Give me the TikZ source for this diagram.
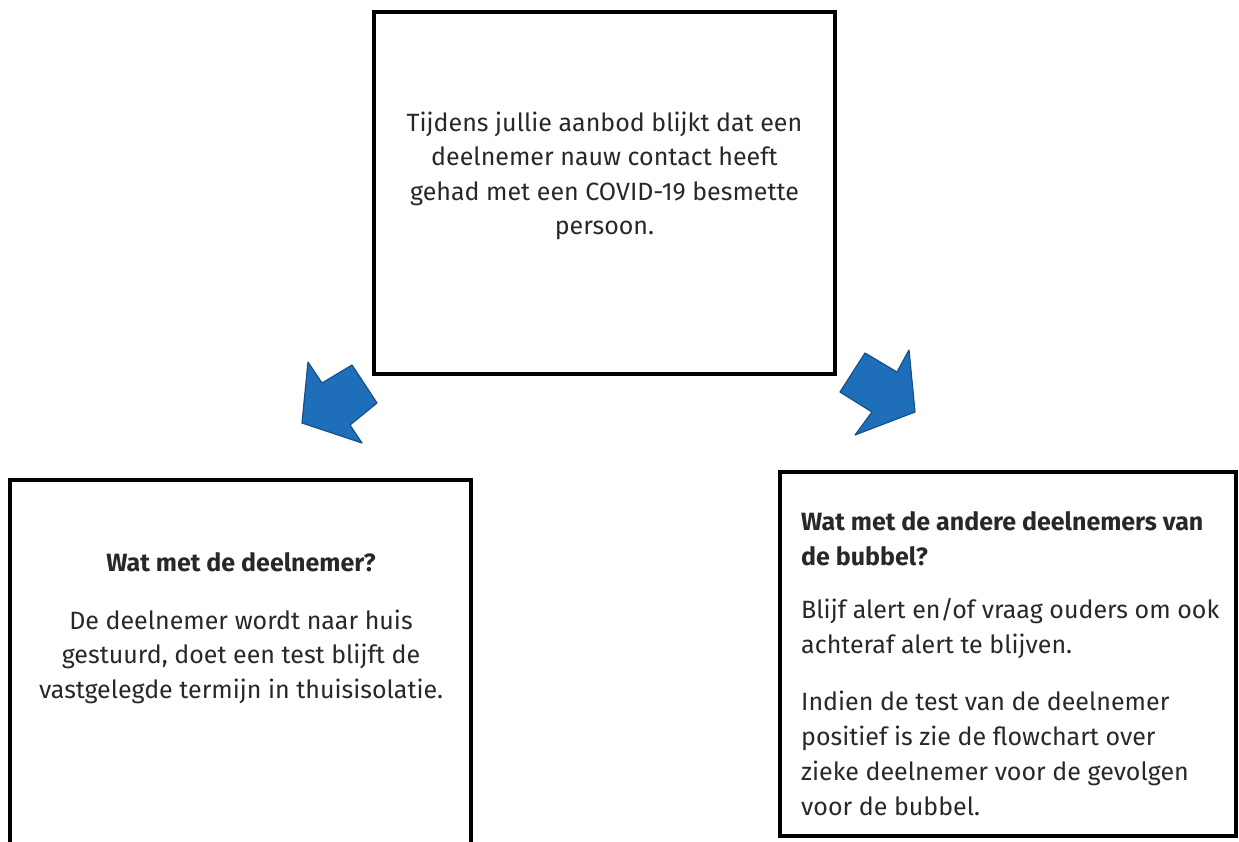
\documentclass[tikz,border=0pt]{standalone}
\usepackage{fontspec}
\setmainfont{Fira Sans}
\usetikzlibrary{positioning}

\definecolor{arrowblue}{RGB}{30,110,185}
\definecolor{arrowedge}{RGB}{22,80,140}
\definecolor{textgrey}{RGB}{40,40,40}

\tikzset{
  box/.style={draw, line width=4pt, minimum width=461pt, minimum height=362pt, inner sep=0pt},
  boxtext/.style={font=\fontsize{25}{34.5}\selectfont, text=textgrey, inner sep=0pt},
  blockarrow/.style={fill=arrowblue, draw=arrowedge, line width=1.2pt, line join=round}
}

\begin{document}
\begin{tikzpicture}[x=1pt,y=-1pt]
    \useasboundingbox (0,0) rectangle (1239,841);

    % Boxes
    \node[box] (start) at (604.5,193) {};
    \node[box, minimum height=368pt] (patient) at (240.5,664) {};
    \node[box, minimum width=456pt, minimum height=364pt] (bubble) at (1008,654) {};

    % Texts
    \node[boxtext, align=center] (starttext) at (604.5,176)
        {Tijdens jullie aanbod blijkt dat een\\
         deelnemer nauw contact heeft\\
         gehad met een COVID-19 besmette\\
         persoon.};
    \node[boxtext, align=center] (patienttext) at (241,628)
        {\textbf{Wat met de deelnemer?}\\[23pt]
         De deelnemer wordt naar huis\\
         gestuurd, doet een test blijft de\\
         vastgelegde termijn in thuisisolatie.};
    \node[boxtext, align=left, anchor=north west,
          font=\fontsize{25}{35}\selectfont] (bubbletext) at (801,511)
        {\textbf{Wat met de andere deelnemers van}\\
         \textbf{de bubbel?}\\[18pt]
         Blijf alert en/of vraag ouders om ook\\
         achteraf alert te blijven.\\[22pt]
         Indien de test van de deelnemer\\
         positief is zie de flowchart over\\
         zieke deelnemer voor de gevolgen\\
         voor de bubbel.};

    % Arrows
    \draw[blockarrow] (302,423) -- (308,362) -- (322,383) -- (352,365)
        -- (377,403) -- (350,425) -- (362,443) -- cycle;
    \draw[blockarrow] (915,412) -- (909,350) -- (897,372) -- (865,353)
        -- (840,392) -- (872,412) -- (855,435) -- cycle;
\end{tikzpicture}
\end{document}
